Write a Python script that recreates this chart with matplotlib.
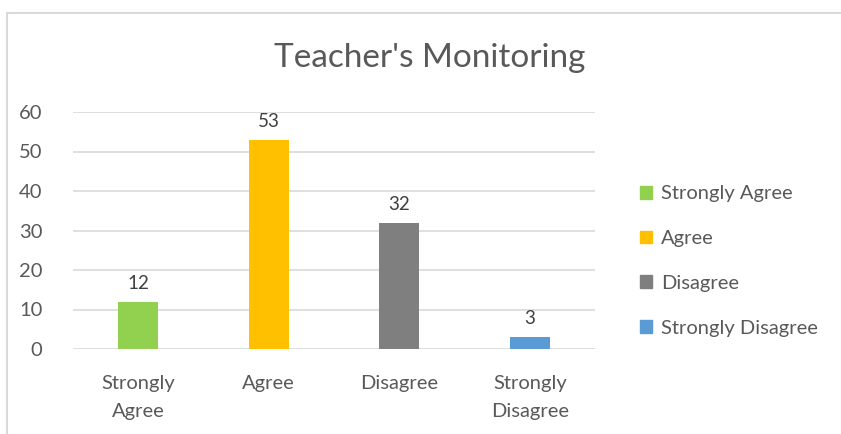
import matplotlib.pyplot as plt
from matplotlib.patches import Patch
from matplotlib.lines import Line2D

categories = ['Strongly\nAgree', 'Agree', 'Disagree', 'Strongly\nDisagree']
legend_names = ['Strongly Agree', 'Agree', 'Disagree', 'Strongly Disagree']
values = [12, 53, 32, 3]
colors = ['#92D050', '#FFC000', '#7F7F7F', '#5B9BD5']

plt.rcParams['font.family'] = ['Lato', 'DejaVu Sans']
txt = '#595959'

fig = plt.figure(figsize=(8.41, 4.34), dpi=100)
ax = fig.add_axes([73 / 841, 1 - 349 / 434, 522 / 841, 237 / 434])

x = range(len(values))
bars = ax.bar(x, values, width=0.31, color=colors)
ax.bar_label(bars, padding=7, fontsize=13.5, color='#404040')

ax.set_ylim(0, 60)
ax.set_xlim(-0.5, 3.5)
ax.set_yticks(range(0, 61, 10))
ax.set_xticks(list(x))
ax.set_xticklabels(categories, fontsize=14.5, color=txt, linespacing=1.75)
ax.tick_params(axis='y', length=0, labelsize=14.5, labelcolor=txt, pad=22)
ax.tick_params(axis='x', length=0, pad=19)
ax.grid(axis='y', color='#D9D9D9', linewidth=1.2)
ax.set_axisbelow(True)
for sp in ax.spines.values():
    sp.set_visible(False)

fig.text(430 / 841, 1 - 58 / 434, "Teacher's Monitoring", ha='center', va='center',
         fontsize=24, color=txt)

handles = [Patch(color=c) for c in colors]
fig.legend(handles, legend_names, loc='center left', bbox_to_anchor=(622 / 841, 1 - 261 / 434),
           frameon=False, fontsize=14.5, labelcolor=txt, handlelength=0.6, handleheight=0.6,
           handletextpad=0.45, labelspacing=1.38)

# chart border
fig.add_artist(Line2D([7 / 841, 1], [1 - 13 / 434, 1 - 13 / 434], color='#D9D9D9', lw=1.5))
fig.add_artist(Line2D([7 / 841, 7 / 841], [0, 1 - 13 / 434], color='#D9D9D9', lw=1.5))

fig.savefig('out.png', dpi=100)
